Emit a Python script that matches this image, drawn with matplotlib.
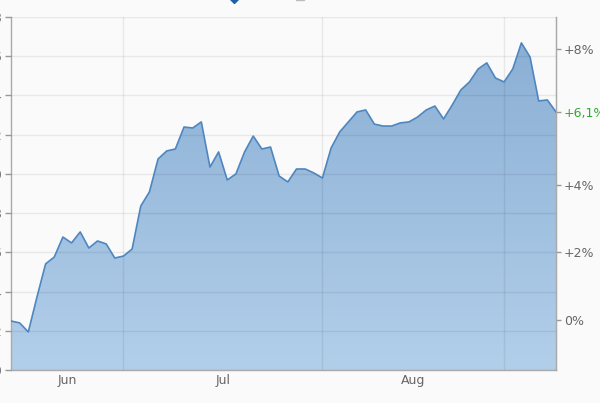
import numpy as np
import matplotlib
matplotlib.use("Agg")
import matplotlib.pyplot as plt
from matplotlib.lines import Line2D

# ---- data ----
prices = [172.50, 172.40, 171.94, 173.72, 175.41, 175.76, 176.78, 176.48, 177.04, 176.22,
          176.58, 176.43, 175.71, 175.81, 176.17, 178.36, 179.08, 180.76, 181.17, 181.27,
          182.39, 182.34, 182.65, 180.35, 181.12, 179.69, 180.00, 181.12, 181.93, 181.27,
          181.37, 179.89, 179.59, 180.25, 180.25, 180.05, 179.79, 181.32, 182.14, 182.65,
          183.16, 183.26, 182.54, 182.44, 182.44, 182.60, 182.65, 182.90, 183.26, 183.46,
          182.80, 183.51, 184.28, 184.69, 185.35, 185.66, 184.89, 184.69, 185.35, 186.68,
          185.96, 183.72, 183.77, 183.16]
base_price = 172.55
month_labels = ["Jun", "Jul", "Aug"]
month_label_pos = [6.5, 24.5, 46.5]
month_bounds = [13, 36, 57]
left_ticks = [170, 172, 174, 176, 178, 180, 182, 184, 186, 188]
right_ticks = [0, 2, 4, 8]
right_tick_labels = ["0%", "+2%", "+4%", "+8%"]
last_label = "+6,1%"

bg = "#fafafa"
fig = plt.figure(figsize=(6, 4.03), dpi=100, facecolor=bg)
ax = fig.add_axes([11/600, 33/403, 545/600, 353/403])
ax.set_facecolor(bg)

x = np.arange(len(prices))
y = np.array(prices)
ymin, ymax = 170, 188
ax.set_xlim(0, len(prices) - 1)
ax.set_ylim(ymin, ymax)

# gradient fill
poly = ax.fill_between(x, y, ymin, color="none", lw=0)
grad = np.linspace(0, 1, 256).reshape(-1, 1)
top_c = np.array([0x88, 0xad, 0xd3]) / 255
bot_c = np.array([0xb2, 0xcf, 0xea]) / 255
img = top_c[None, None, :] * (1 - grad[:, :, None]) + bot_c[None, None, :] * grad[:, :, None]
im = ax.imshow(img, extent=[0, len(prices) - 1, ymin, ymax], aspect="auto",
               origin="upper", zorder=1)
path = poly.get_paths()[0]
im.set_clip_path(path, transform=ax.transData)
ax.plot(x, y, color="#4f86c0", lw=1.2, zorder=3)

# grid
ax.set_yticks(left_ticks)
ax.set_yticklabels([str(t) for t in left_ticks])
ax.set_xticks(month_bounds)
ax.set_xticklabels([])
ax.set_xticks(month_label_pos, minor=True)
ax.set_xticklabels(month_labels, minor=True)
ax.grid(True, which="major", color="#000000", alpha=0.07, lw=1, zorder=2)
ax.set_axisbelow(False)
ax.tick_params(axis="x", which="both", length=0, pad=3, labelsize=9, labelcolor="#666666")
ax.tick_params(axis="y", length=4.5, width=1, color="#999999", pad=1.5,
               labelsize=9, labelcolor="#777777")

ax.spines["top"].set_visible(False)
for s in ["left", "right", "bottom"]:
    ax.spines[s].set_color("#aaaaaa")
    ax.spines[s].set_linewidth(1)

# right axis in percent
ax2 = ax.twinx()
ax2.set_ylim((ymin / base_price - 1) * 100, (ymax / base_price - 1) * 100)
last_pct = (prices[-1] / base_price - 1) * 100
ax2.set_yticks(right_ticks + [last_pct])
ax2.set_yticklabels(right_tick_labels + [last_label])
ax2.tick_params(axis="y", length=3.5, width=1, color="#999999", pad=2,
                labelsize=9, labelcolor="#666666")
ax2.get_yticklabels()[-1].set_color("#2eaa2e")
for s in ["top", "left", "bottom"]:
    ax2.spines[s].set_visible(False)
ax2.spines["right"].set_color("#aaaaaa")

# cut-off legend markers at the top
fig.add_artist(Line2D([234/600], [1 + 3/403], marker="D", markersize=6,
                      color="#1f5fa8", transform=fig.transFigure, clip_on=False))
fig.add_artist(Line2D([300/600], [1 + 4/403], marker="s", markersize=6,
                      color="#bbbbbb", transform=fig.transFigure, clip_on=False))

fig.savefig("out.png", dpi=100, facecolor=bg)
